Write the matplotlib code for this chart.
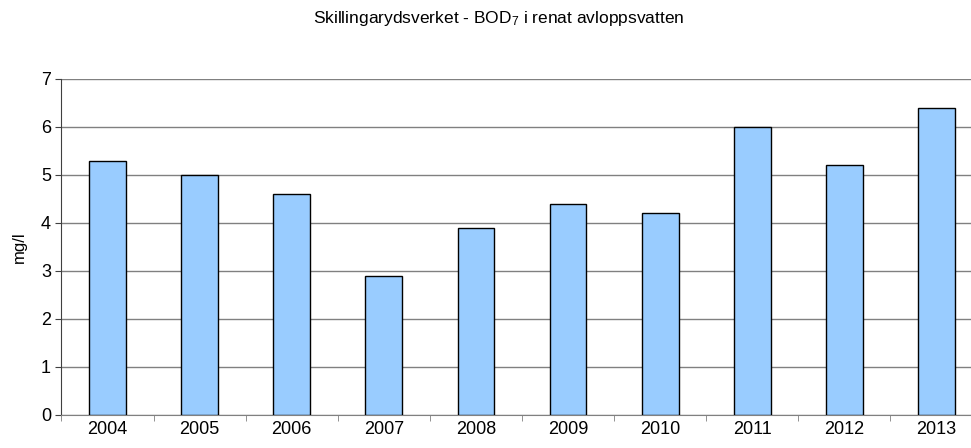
import matplotlib.pyplot as plt
import numpy as np

plt.rcParams['font.family'] = ['Liberation Sans', 'DejaVu Sans']
plt.rcParams['mathtext.default'] = 'regular'

# === data ===
years = ["2004", "2005", "2006", "2007", "2008", "2009", "2010", "2011", "2012", "2013"]
bod7 = [5.3, 5.0, 4.6, 2.9, 3.9, 4.4, 4.2, 6.0, 5.2, 6.4]

fig = plt.figure(figsize=(9.71, 4.48), dpi=100)
ax = fig.add_axes([0.0633, 0.0737, 0.9486, 0.75])

x = np.arange(len(years))
ax.bar(x, bod7, width=0.4, color='#99CCFF', edgecolor='black', linewidth=1.0, zorder=3)

ax.set_xlim(-0.5, len(years) - 0.5)
ax.set_ylim(0, 7)
ax.set_yticks(range(0, 8))
ax.set_xticks(x)
ax.set_xticklabels(years)
ax.set_xticks(np.arange(-0.5, len(years), 1), minor=True)
ax.tick_params(axis='x', which='major', length=0, labelsize=13, pad=4)
ax.tick_params(axis='x', which='minor', length=4, color='#808080', direction='out')
ax.tick_params(axis='y', labelsize=13, length=4, direction='out', color='#404040')

ax.grid(axis='y', color='#808080', linewidth=1.0, zorder=0)
for s in ['top', 'right']:
    ax.spines[s].set_visible(False)
ax.spines['left'].set_color('#404040')
ax.spines['bottom'].set_color('#808080')

ax.set_ylabel("mg/l", fontsize=12, labelpad=10)
fig.text(0.514, 0.958, "Skillingarydsverket - BOD$_7$ i renat avloppsvatten",
         ha='center', va='center', fontsize=12.5)

fig.savefig("out.png", dpi=100)
